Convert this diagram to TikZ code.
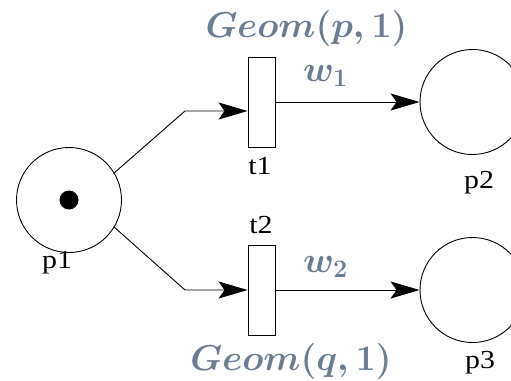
\RequirePackage{fix-cm}
\documentclass[tikz,border=0pt]{standalone}
\usepackage{fontspec}
\setmainfont{Liberation Serif}
\usetikzlibrary{arrows.meta}
\definecolor{geomcol}{RGB}{108,124,146}
\newcommand{\widelbl}[1]{\scalebox{1.15}[1]{#1}}
\begin{document}
\begin{tikzpicture}[x=1pt,y=-1pt,
  place/.style={draw,circle,minimum size=105pt,inner sep=0pt,line width=0.9pt},
  trans/.style={draw,rectangle,minimum width=27pt,minimum height=90pt,inner sep=0pt,line width=0.9pt},
  lbl/.style={anchor=base,inner sep=0pt,font=\fontsize{26}{30}\selectfont},
  rate/.style={anchor=base,inner sep=0pt,text=geomcol,font=\fontsize{36}{40}\selectfont\boldmath},
  arc/.style={draw,line width=0.9pt,-{Stealth[length=29pt,width=17pt,inset=6pt]}}]
\clip (0,0) rectangle (511,380);
\useasboundingbox (0,0) rectangle (511,380);
\node[place] (p1) at (69,200) {};
\node[circle,fill,minimum size=19pt,inner sep=0pt] (tok) at (69,200) {};
\node[place] (p2) at (472.5,102) {};
\node[place] (p3) at (472.5,290) {};
\node[trans] (t1) at (261.5,102) {};
\node[trans] (t2) at (261.5,290) {};
\coordinate (b1) at (185,111);
\coordinate (b2) at (185,290);
\draw[arc] (p1.31) -- (b1) -- (b1 -| t1.west);
\draw[arc] (p1.-31) -- (b2) -- (t2.west);
\draw[arc] (t1.east) -- (p2.west);
\draw[arc] (t2.east) -- (p3.west);
\node[lbl] (l1) at (57,268) {\widelbl{p1}};
\node[lbl] (l2) at (479,188) {\widelbl{p2}};
\node[lbl] (l3) at (480,368) {\widelbl{p3}};
\node[lbl] (lt1) at (260,174) {\widelbl{t1}};
\node[lbl] (lt2) at (261,233) {\widelbl{t2}};
\node[rate] (g1) at (306.5,37) {$Geom(p,1)$};
\node[rate] (g2) at (291,370) {$Geom(q,1)$};
\node[rate,anchor=base west] (w1) at (303,81) {$w_1$};
\node[rate,anchor=base west] (w2) at (303,272) {$w_2$};
\end{tikzpicture}
\end{document}
